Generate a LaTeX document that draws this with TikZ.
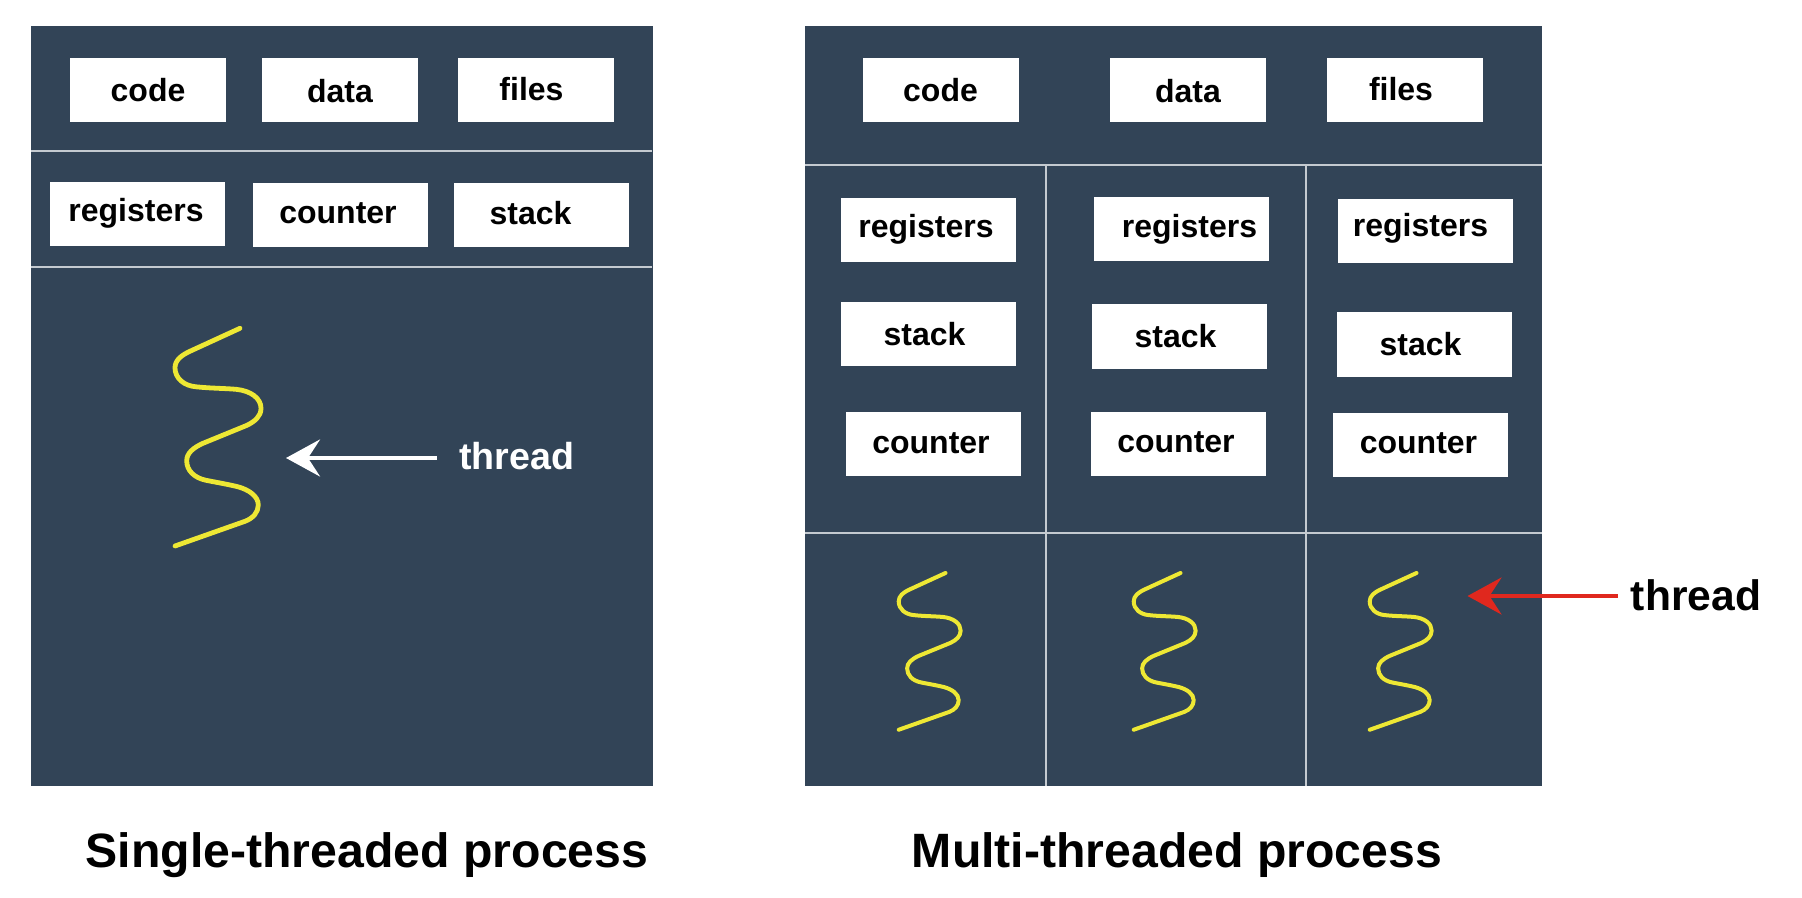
\documentclass[tikz,border=0pt]{standalone}
\usepackage{fontspec}
\setmainfont{Liberation Sans}
\usetikzlibrary{arrows.meta}
\definecolor{panelblue}{HTML}{324457}
\definecolor{dividergray}{HTML}{C4CAD0}
\definecolor{threadyellow}{HTML}{EEE834}
\definecolor{arrowred}{HTML}{E0281E}
\tikzset{squiggle/.pic={
  \draw[threadyellow,line cap=round,line join=round]
    (0,0) -- (-49,22.5) .. controls (-59,27) and (-65,32) .. (-65,39.5)
    .. controls (-65,50) and (-56,57.5) .. (-44,58.5)
    .. controls (-30,60) and (-16,60) .. (-4,61)
    .. controls (11,62.5) and (21,70) .. (21,80)
    .. controls (21,88) and (15,93) .. (7,97)
    -- (-37,115) .. controls (-47,119.5) and (-53.3,125) .. (-53.3,132.5)
    .. controls (-53.3,142) and (-46,149.5) .. (-34,152)
    .. controls (-24,154) and (-12,156) .. (-2,158.5)
    .. controls (9,161.5) and (18.3,168) .. (18.3,176.7)
    .. controls (18.3,184) and (13,190) .. (5,193) -- (-65,217.7);
}}

\begin{document}
\begin{tikzpicture}[x=0.5pt,y=-0.5pt,font=\bfseries]
 \tikzstyle{panel}=[fill=panelblue,draw=none,inner sep=0pt,anchor=north west]
 \tikzstyle{divider}=[dividergray,line width=1pt]
 \tikzstyle{topbox}=[fill=white,draw=none,inner sep=0pt,minimum width=78pt,minimum height=32pt,text height=13pt,text depth=2pt,font=\bfseries\fontsize{16}{20}\selectfont]
 \tikzstyle{procbox}=[topbox,minimum width=87.5pt,text height=12pt,text depth=4pt]
 \tikzstyle{threadlabel}=[inner sep=0pt,font=\bfseries\fontsize{18.8}{22}\selectfont,text height=11.5pt,text depth=0pt]
 \tikzstyle{threadarrow}=[line width=2pt,-{Stealth[length=17pt,width=18.5pt,inset=6pt]}]
 \tikzstyle{caption}=[inner sep=0pt,font=\bfseries\fontsize{24.1}{28}\selectfont]

 \useasboundingbox (0,0) rectangle (1802,898);

 % single-threaded
 \node[panel,minimum width=311pt,minimum height=380pt] (panelA) at (30.5,26) {};
 \draw[divider] (30.5,151) -- (652,151);
 \draw[divider] (30.5,267) -- (652,267);

 \node[topbox] (codeA) at (148,90.5) {code};
 \node[topbox,text depth=0.5pt] (dataA) at (340,90) {data};
 \node[topbox] (filesA) at (535.5,90) {files\kern4pt};
 \node[procbox] (regA) at (137.5,214) {registers\kern1.5pt};
 \node[procbox] (countA) at (340,215.5) {counter\kern2pt};
 \node[procbox,text depth=3pt] (stackA) at (541.5,215.5) {stack\kern11pt};

 \pic[line width=2.4pt] at (240,328.3) {squiggle};

 \node[threadlabel,text=white,anchor=west] (threadA) at (459,458) {thread};
 \coordinate (tipA) at (286,458);
 \draw[threadarrow,white,shorten <=11pt] (threadA.west) -- (tipA);

 \node[caption] (capA) at (367,855) {Single-threaded process};

 % multi-threaded
 \node[panel,minimum width=368.5pt,minimum height=380pt] (panelB) at (805,26) {};
 \draw[divider] (805,165) -- (1542,165);
 \draw[divider] (805,533) -- (1542,533);
 \draw[divider] (1046,165) -- (1046,786);
 \draw[divider] (1305.5,165) -- (1305.5,786);

 \node[topbox] (codeB) at (940.5,90.5) {code};
 \node[topbox,text depth=0.5pt] (dataB) at (1188,90) {data};
 \node[topbox] (filesB) at (1405,90) {files\kern4pt};

 \node[procbox] (regB) at (928,230) {registers\kern2pt};
 \node[procbox,text depth=1pt] (stackB) at (928.5,334) {stack\kern4pt};
 \node[procbox,text depth=2.5pt] (countB) at (933,444) {counter\kern2pt};

 \node[procbox] (regC) at (1181.5,229.5) {\kern8pt registers};
 \node[procbox,text depth=1pt] (stackC) at (1179.5,336.5) {stack\kern4pt};
 \node[procbox] (countC) at (1178,444) {counter\kern2pt};

 \node[procbox,text depth=7pt] (regD) at (1425.5,231.5) {registers\kern5pt};
 \node[procbox,text depth=1pt] (stackD) at (1424.5,344.5) {stack\kern4pt};
 \node[procbox] (countD) at (1420.5,445) {counter\kern2pt};

 \pic[scale=0.72,line width=2pt] at (945.5,573) {squiggle};
 \pic[scale=0.72,line width=2pt] at (1180.5,573) {squiggle};
 \pic[scale=0.72,line width=2pt] at (1416.5,573) {squiggle};

 \node[threadlabel,anchor=west,font=\bfseries\fontsize{21.3}{24}\selectfont,text height=14.5pt] (threadB) at (1630.5,596) {thread};
 \coordinate (tipB) at (1467.5,596);
 \draw[threadarrow,arrowred,shorten <=6.5pt] (threadB.west) -- (tipB);

 \node[caption] (capB) at (1177,855) {Multi-threaded process};
\end{tikzpicture}
\end{document}
